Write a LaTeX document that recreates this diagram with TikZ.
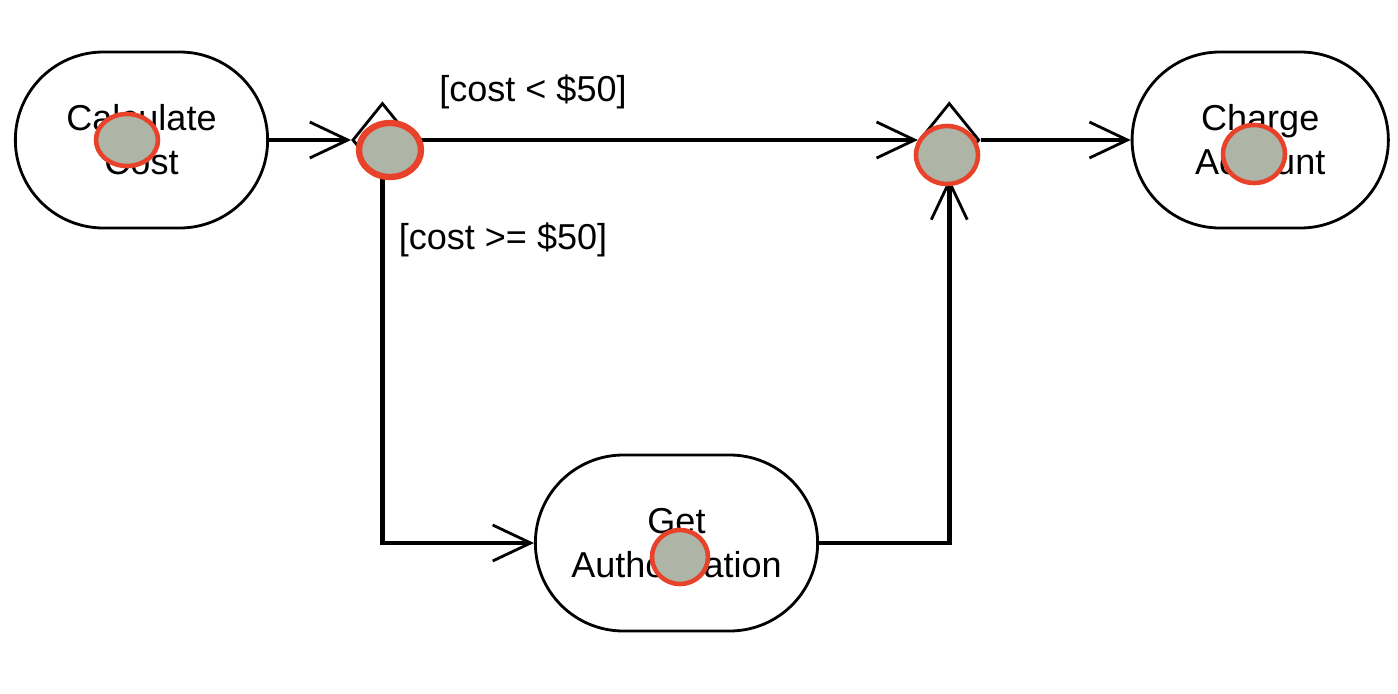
\documentclass[tikz,border=0pt]{standalone}
\usepackage{fontspec}
\setmainfont{Liberation Sans}
\usetikzlibrary{
	arrows.meta,
	positioning,
	shapes.geometric,
	shapes.misc
}
\definecolor{blobgray}{HTML}{AEB4A6}
\definecolor{blobred}{HTML}{E8422A}
\tikzset{
	flowedge/.style={line width=2.8pt, -{Straight Barb[length=0.76cm, width=0.72cm, line width=1.6pt]}},
	actnode/.style={rounded rectangle, draw, line width=1.6pt, minimum height=3.52cm, align=center, font=\fontsize{20.5}{25}\selectfont},
	choicenode/.style={diamond, draw, line width=1.6pt, minimum width=1.2cm, minimum height=1.48cm, inner sep=0pt},
	guardlabel/.style={font=\fontsize{20.5}{25}\selectfont},
	marker/.style={fill=blobgray, draw=blobred, line width=2.6pt}
}

\begin{document}
\begin{tikzpicture}
	\useasboundingbox (0,0) rectangle (27.96,-13.88);

	\node[actnode, minimum width=5.28cm] (calc) at (2.83,-2.8) {Calculate\\Cost};
	\node[choicenode, right = 1.64 of calc.east] (branch) {};
	\node[choicenode, right = 10.08 of branch.east] (merge) {};
	\node[actnode, minimum width=5.36cm, right = 3.0 of merge.east] (charge) {Charge\\Account};
	\node[actnode, minimum width=5.88cm] (auth) at (13.53,-10.86) {Get\\Authorization};

	\node[guardlabel] (lowcost) at (10.66,-1.84) {[cost < \$50]};
	\node[guardlabel] (highcost) at (10.06,-4.8) {[cost >= \$50]};

	\draw[flowedge] (calc.east) -- (branch.west);
	\draw[flowedge] (branch.east) -- (merge.west);
	\draw[flowedge] (branch.south) |- (auth.west);
	\draw[flowedge] (auth.east) -| (merge.south);
	\draw[flowedge] (merge.east) -- (charge.west);

	% grey markers on top
	\foreach \x/\y/\rx/\ry in {2.54/-2.8/0.62/0.52, 18.94/-3.1/0.62/0.58, 25.08/-3.08/0.62/0.58, 13.6/-11.14/0.56/0.54}
		\draw[marker] (\x,\y) ellipse ({\rx} and {\ry});
	\draw[marker, line width=3.6pt] (7.8,-3.0) ellipse (0.62 and 0.54);
\end{tikzpicture}
\end{document}
